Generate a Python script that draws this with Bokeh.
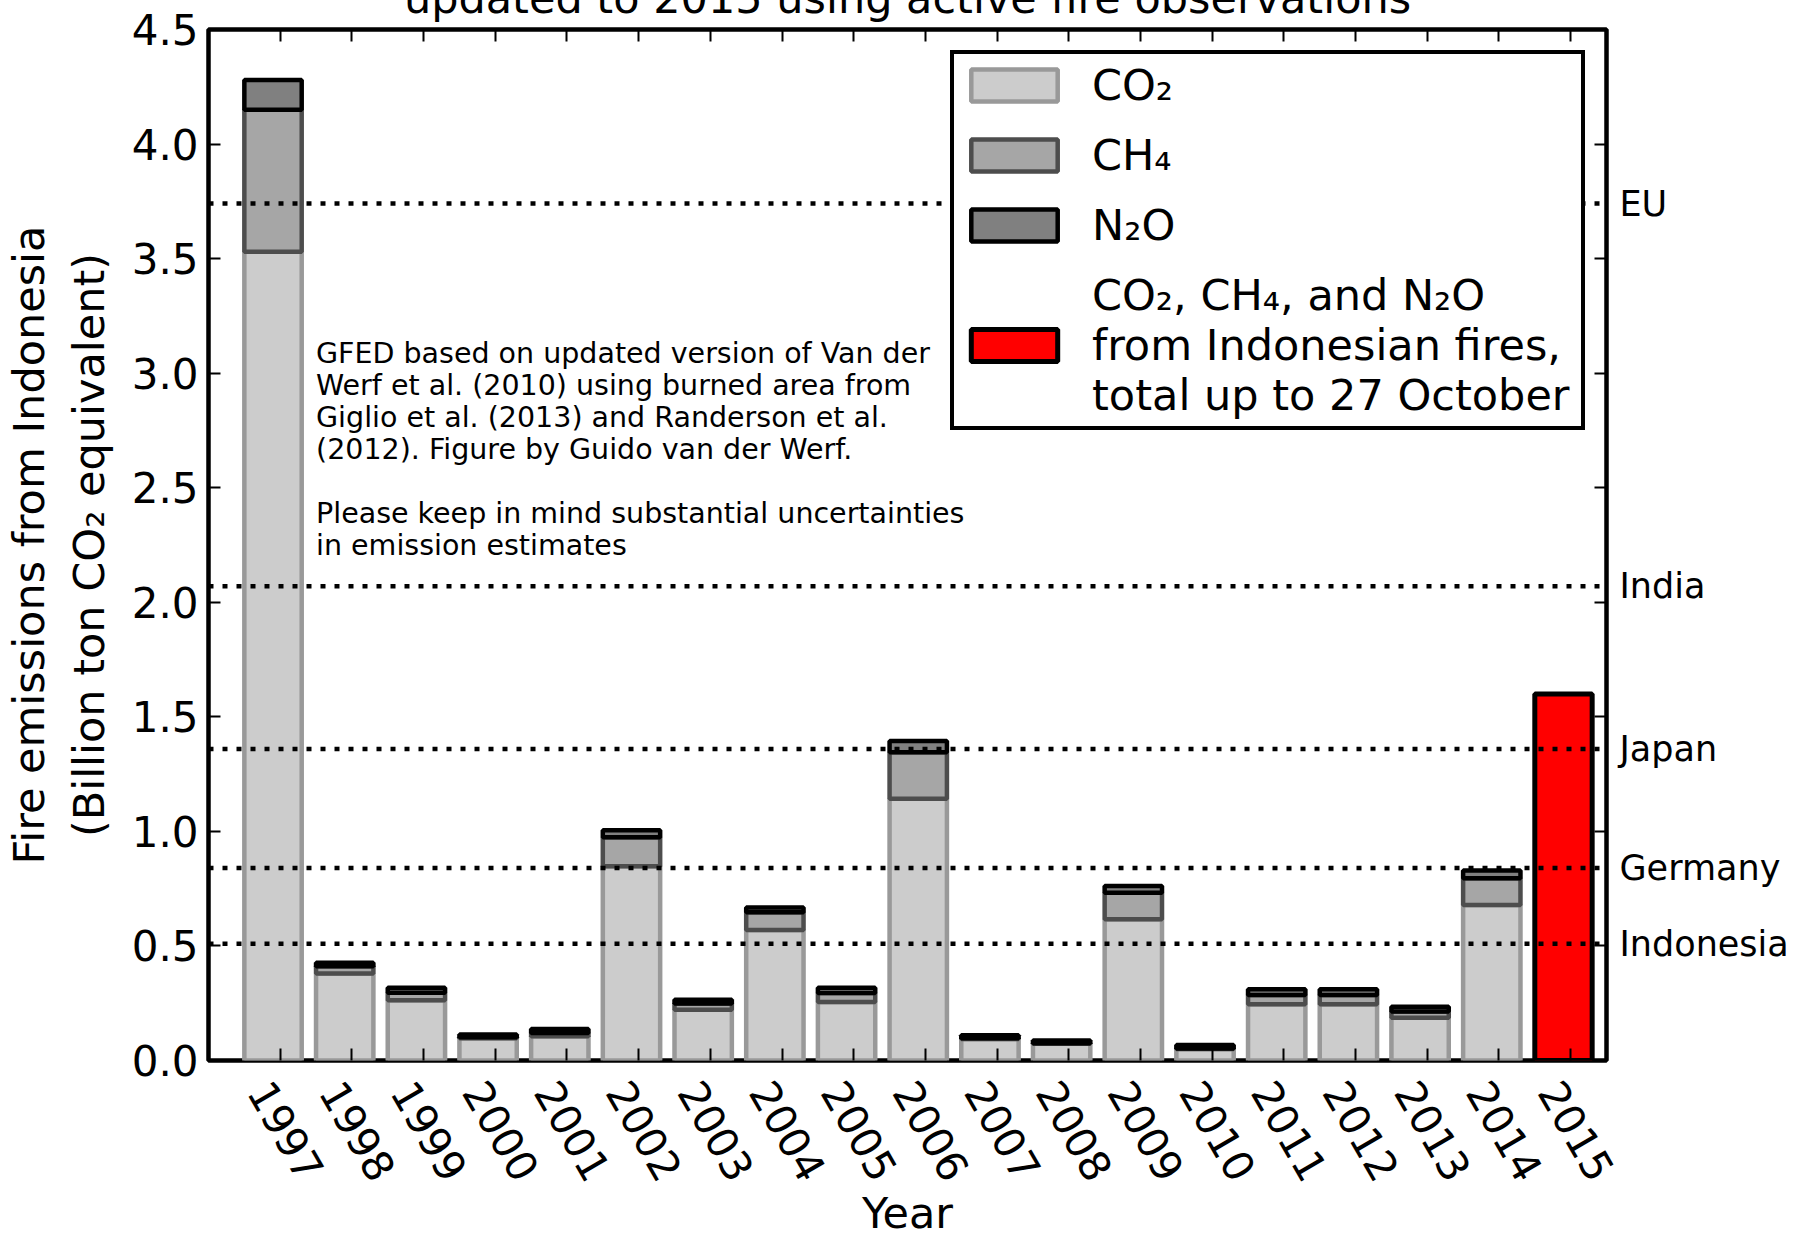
import math
from bokeh.plotting import figure
from bokeh.models import (ColumnDataSource, FixedTicker, LinearAxis, Span, Label,
                          Legend, LegendItem, Range1d, CustomLabelingPolicy)
from bokeh.embed import file_html
from bokeh.resources import INLINE

# Annual fire emissions from Indonesia (billion ton CO2 equivalent), GFED
years = list(range(1997, 2015))
co2 = [3.53, 0.380, 0.263, 0.097, 0.106, 0.848, 0.221, 0.570, 0.255,
       1.143, 0.094, 0.073, 0.617, 0.050, 0.246, 0.246, 0.187, 0.679]
ch4 = [0.62, 0.031, 0.033, 0.004, 0.014, 0.126, 0.028, 0.077, 0.040,
       0.202, 0.003, 0.002, 0.115, 0.002, 0.040, 0.040, 0.027, 0.116]
n2o = [0.13, 0.016, 0.022, 0.013, 0.018, 0.031, 0.016, 0.021, 0.022,
       0.049, 0.013, 0.012, 0.030, 0.016, 0.025, 0.025, 0.021, 0.034]

# 2015 total (all three gases) up to 27 October
year_2015 = [2015]
total_2015 = [1.60]

# Annual national emissions used as reference levels
ref_names = ["EU", "India", "Japan", "Germany", "Indonesia"]
ref_values = [3.74, 2.07, 1.36, 0.84, 0.51]

y_ticks = [0.0, 0.5, 1.0, 1.5, 2.0, 2.5, 3.0, 3.5, 4.0, 4.5]

FONT = "DejaVu Sans"
BAR_W = 0.8
X0, X1 = 1996.5, 2016.0
HIDDEN_TOP = 51          # strip of the canvas scrolled above the page top

all_years = years + year_2015
# bars are left-aligned on the year, ticks sit at year + 0.5
src = ColumnDataSource(dict(x=[y + BAR_W / 2 for y in years], co2=co2, ch4=ch4, n2o=n2o))
src_2015 = ColumnDataSource(dict(x=[y + BAR_W / 2 for y in year_2015], top=total_2015))

p = figure(width=1804, height=1241 + HIDDEN_TOP, output_backend="svg",
           toolbar_location=None,
           x_range=Range1d(X0, X1), y_range=Range1d(0, 4.5),
           min_border_left=207, min_border_right=198,
           min_border_top=29 + HIDDEN_TOP, min_border_bottom=181)
p.styles = {"margin-top": f"-{HIDDEN_TOP}px"}
p.xgrid.visible = False
p.ygrid.visible = False
p.outline_line_color = "black"
p.outline_line_width = 4.5
p.outline_line_alpha = 1.0
p.background_fill_color = "white"

# the second title line; its upper part lies beyond the page top
p.title.text = "updated to 2015 using active fire observations"
p.title.text_font = FONT
p.title.text_font_size = "43px"
p.title.text_font_style = "normal"
p.title.text_color = "black"
p.title.align = "center"
p.title.standoff = 5

stack = p.vbar_stack(["co2", "ch4", "n2o"], x="x", width=BAR_W, source=src,
                     fill_color=["#cccccc", "#a6a6a6", "#808080"],
                     line_color=["#999999", "#4d4d4d", "#000000"],
                     line_width=4.5)
red = p.vbar(x="x", top="top", width=BAR_W, source=src_2015,
             fill_color="#ff0000", line_color="black", line_width=5)

x_tick_pos = [y + 0.5 for y in all_years]
# rotated year labels are anchored by their start, so centre them on the ticks
x_label_pos = [y + 0.21 for y in all_years]

no_labels = CustomLabelingPolicy(code="for (const i of indices) indices.unset(i); return indices")

def style_axis(ax):
    ax.axis_line_color = None
    ax.major_tick_in = 12
    ax.major_tick_out = 0
    ax.major_tick_line_width = 2
    ax.major_tick_line_color = "black"
    ax.minor_tick_line_color = None
    ax.major_label_text_font = FONT
    ax.major_label_text_color = "black"
    ax.axis_label_text_font = FONT
    ax.axis_label_text_font_style = "normal"
    ax.axis_label_text_color = "black"

def ticks_only(ax):
    style_axis(ax)
    ax.major_label_text_font_size = "1px"
    ax.major_label_standoff = 0
    ax.major_label_policy = no_labels

# bottom: tick marks
xa = p.xaxis[0]
ticks_only(xa)
xa.ticker = FixedTicker(ticks=x_tick_pos)

# bottom: year labels and axis title
xl = LinearAxis(ticker=FixedTicker(ticks=x_label_pos))
style_axis(xl)
xl.major_tick_in = 0
xl.major_label_overrides = {t: str(y) for t, y in zip(x_label_pos, all_years)}
xl.major_label_orientation = -math.pi / 3
xl.major_label_text_font_size = "42px"
xl.major_label_standoff = 20
xl.axis_label = "Year"
xl.axis_label_text_font_size = "43px"
xl.axis_label_standoff = -8
p.add_layout(xl, "below")

ya = p.yaxis[0]
style_axis(ya)
ya.ticker = FixedTicker(ticks=y_ticks)
ya.major_label_overrides = {t: f"{t:.1f}" for t in y_ticks}
ya.major_label_text_font_size = "42px"
ya.major_label_standoff = 10
ya.axis_label = "Fire emissions from Indonesia\n(Billion ton CO\u2082 equivalent)"
ya.axis_label_text_font_size = "43px"
ya.axis_label_standoff = 15

top_ax = LinearAxis(ticker=FixedTicker(ticks=x_tick_pos))
ticks_only(top_ax)
p.add_layout(top_ax, "above")

right_ax = LinearAxis(ticker=FixedTicker(ticks=y_ticks))
ticks_only(right_ax)
p.add_layout(right_ax, "right")

# names of the reference levels, outside the right edge
ref_ax = LinearAxis(ticker=FixedTicker(ticks=ref_values))
style_axis(ref_ax)
ref_ax.major_tick_in = 0
ref_ax.major_label_overrides = {v: n for v, n in zip(ref_values, ref_names)}
ref_ax.major_label_text_font_size = "35px"
ref_ax.major_label_standoff = 8
p.add_layout(ref_ax, "right")

# dotted reference levels
for v in ref_values:
    p.add_layout(Span(location=v, dimension="width", line_color="black",
                      line_width=4.5, line_dash="5 9"))

note = ("GFED based on updated version of Van der\n"
        "Werf et al. (2010) using burned area from\n"
        "Giglio et al. (2013) and Randerson et al.\n"
        "(2012). Figure by Guido van der Werf.\n"
        "\n"
        "Please keep in mind substantial uncertainties\n"
        "in emission estimates")
p.add_layout(Label(x=1998, y=3.157, text=note, text_font=FONT, text_font_size="28.5px",
                   text_baseline="top", text_align="left", text_line_height=0.97,
                   text_color="black"))

legend = Legend(items=[
    LegendItem(label="CO\u2082", renderers=[stack[0]]),
    LegendItem(label="CH\u2084", renderers=[stack[1]]),
    LegendItem(label="N\u2082O", renderers=[stack[2]]),
    LegendItem(label="CO\u2082, CH\u2084, and N\u2082O\nfrom Indonesian fires,\ntotal up to 27 October",
               renderers=[red]),
], location="top_right")
legend.label_text_font = FONT
legend.label_text_font_size = "43px"
legend.label_text_color = "black"
legend.glyph_width = 108
legend.glyph_height = 40
legend.label_standoff = 24
legend.label_width = 483
legend.padding = 6
legend.spacing = 20
legend.margin = 21
legend.border_line_color = "black"
legend.border_line_alpha = 1.0
legend.border_line_width = 4
legend.background_fill_alpha = 1.0
p.add_layout(legend)

open("out.html", "w").write(file_html(p, INLINE))
